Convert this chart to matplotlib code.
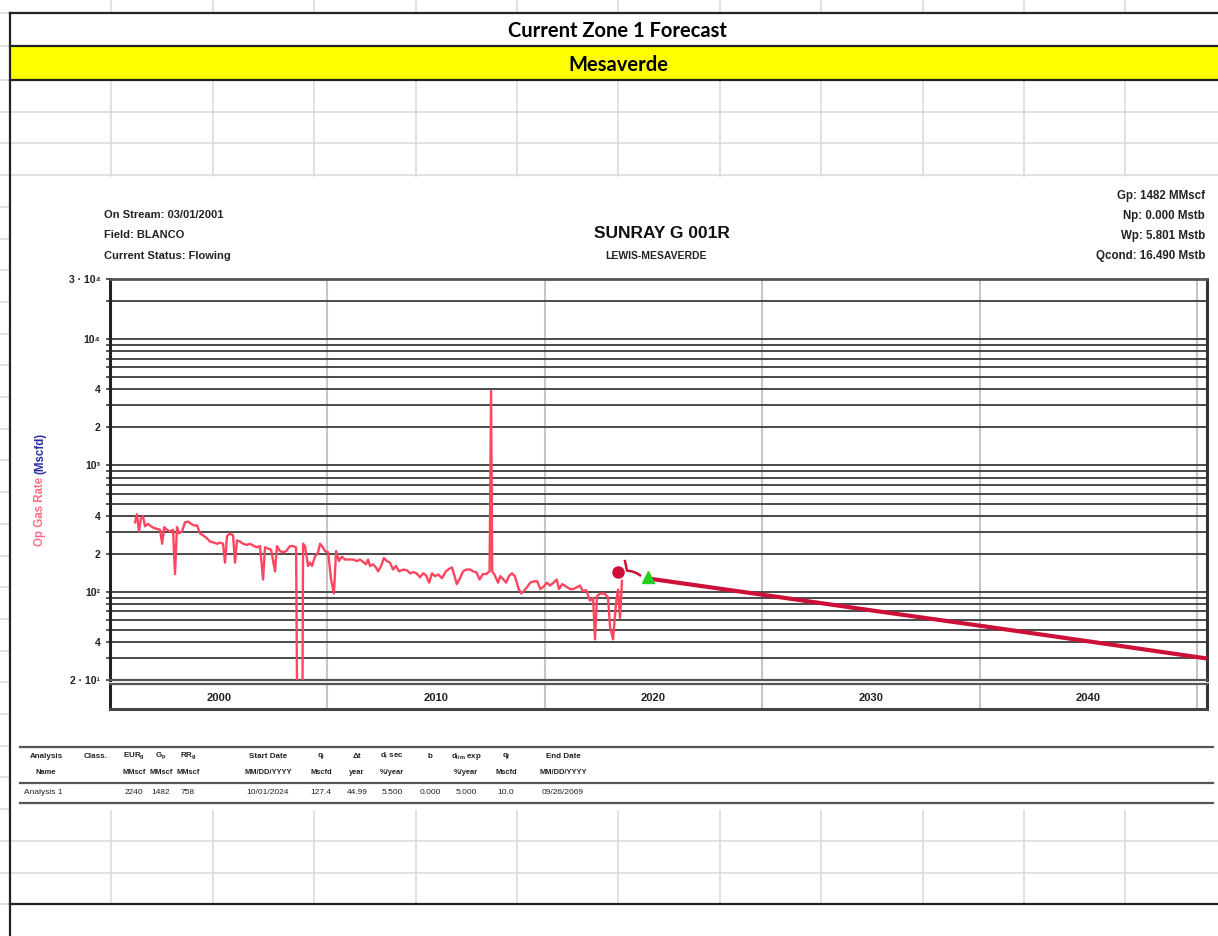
import matplotlib
matplotlib.use("Agg")
import matplotlib.pyplot as plt
from matplotlib.ticker import FixedLocator, NullFormatter

plt.rcParams['font.family'] = ['Liberation Sans', 'DejaVu Sans']
plt.rcParams['mathtext.fontset'] = 'custom'
plt.rcParams['mathtext.rm'] = 'Liberation Sans'
plt.rcParams['mathtext.bf'] = 'Liberation Sans:bold'
plt.rcParams['mathtext.it'] = 'Liberation Sans:italic'

W, H = 1218, 936

# ---- production history (Mscfd) ----
hist_year = [
    2001.15, 2001.24, 2001.33, 2001.42, 2001.52, 2001.61, 2001.75, 2001.89,
    2002.02, 2002.16, 2002.30, 2002.40, 2002.49, 2002.62, 2002.76, 2002.90, 2002.99, 2003.08,
    2003.17, 2003.31, 2003.45, 2003.59, 2003.73, 2003.87, 2004.00, 2004.14, 2004.28, 2004.46,
    2004.60, 2004.78, 2004.92, 2005.06, 2005.20, 2005.29, 2005.38, 2005.52, 2005.66, 2005.75,
    2005.84, 2005.98, 2006.12, 2006.30, 2006.44, 2006.62, 2006.76, 2006.90, 2007.04, 2007.13,
    2007.27, 2007.41, 2007.59, 2007.68, 2007.82, 2007.96, 2008.10, 2008.28, 2008.42, 2008.56,
    2008.65, 2008.83, 2008.88, 2008.97, 2009.11, 2009.20, 2009.29, 2009.43, 2009.57, 2009.66,
    2009.75, 2009.89, 2010.03, 2010.17, 2010.30, 2010.40, 2010.53, 2010.67, 2010.81, 2011.00,
    2011.18, 2011.36, 2011.50, 2011.68, 2011.78, 2011.87, 2011.96, 2012.10, 2012.24, 2012.33,
    2012.47, 2012.60, 2012.74, 2012.88, 2013.02, 2013.15, 2013.30, 2013.48, 2013.66, 2013.80,
    2013.95, 2014.10, 2014.26, 2014.40, 2014.54, 2014.68, 2014.81, 2014.95, 2015.10, 2015.27,
    2015.45, 2015.60, 2015.73, 2015.85, 2015.95, 2016.10, 2016.24, 2016.40, 2016.56, 2016.70,
    2016.85, 2017.00, 2017.15, 2017.30, 2017.46, 2017.53, 2017.58, 2017.70, 2017.85, 2017.95,
    2018.10, 2018.22, 2018.35, 2018.49, 2018.62, 2018.80, 2018.92, 2019.05, 2019.20, 2019.33,
    2019.50, 2019.65, 2019.80, 2019.95, 2020.10, 2020.24, 2020.40, 2020.55, 2020.65, 2020.80,
    2020.98, 2021.16, 2021.30, 2021.45, 2021.62, 2021.75, 2021.90, 2022.08, 2022.22, 2022.31,
    2022.40, 2022.52, 2022.63, 2022.77, 2022.91, 2023.00, 2023.14, 2023.28, 2023.37, 2023.46,
    2023.55,
]
hist_rate = [
    355, 410, 300, 380, 395, 330, 345, 330,
    320, 315, 310, 240, 325, 310, 300, 310, 138, 325,
    290, 300, 355, 360, 345, 335, 335, 290, 280, 265,
    250, 245, 240, 245, 240, 170, 275, 290, 280, 170,
    255, 250, 240, 235, 240, 230, 225, 230, 125, 225,
    220, 215, 145, 230, 210, 205, 210, 230, 230, 225,
    1, 1, 240, 230, 160, 170, 160, 190, 205, 240,
    230, 210, 205, 125, 97, 210, 175, 190, 180, 180,
    180, 175, 180, 170, 165, 180, 160, 165, 155, 145,
    160, 185, 175, 170, 150, 160, 145, 150, 148, 140,
    143, 140, 130, 140, 135, 118, 140, 133, 137, 128,
    145, 152, 156, 133, 115, 128, 145, 150, 150, 145,
    143, 125, 138, 138, 145, 3900, 145, 135, 118, 133,
    125, 118, 133, 140, 133, 105, 97, 102, 110, 118,
    121, 121, 105, 110, 118, 112, 118, 125, 105, 115,
    110, 105, 105, 108, 112, 101, 103, 85, 89, 42,
    92, 96, 97, 96, 90, 53, 42, 82, 104, 62,
    122,
]

recent_year = [2023.69, 2023.78, 2024.01, 2024.24, 2024.38]
recent_rate = [175, 147, 145, 140, 135]

# forecast (Analysis 1)
fcst_year = [2024.75, 2030.0, 2035.0, 2040.0, 2045.0, 2050.46]
fcst_rate = [127.4, 94.8, 71.3, 53.9, 40.5, 29.6]

last_prod_year, last_prod_rate = 2023.37, 143
fcst_start_year, fcst_start_rate = 2024.75, 132

decades = [2000, 2010, 2020, 2030, 2040, 2050]
decade_labels = ['2000', '2010', '2020', '2030', '2040']

ytick_vals = [20, 40, 100, 200, 400, 1000, 2000, 4000, 10000, 30000]
ytick_labels = ['2 · 10¹', '4', '10²', '2', '4', '10³', '2', '4', '10⁴', '3 · 10⁴']

info_left = ['On Stream: 03/01/2001', 'Field: BLANCO', 'Current Status: Flowing']
info_right = ['Gp: 1482 MMscf', 'Np: 0.000 Mstb', 'Wp: 5.801 Mstb', 'Qcond: 16.490 Mstb']

tbl_head1 = ['Analysis', 'Class.', r'EUR$_\mathbf{g}$', r'G$_\mathbf{p}$', r'RR$_\mathbf{g}$', 'Start Date',
             r'q$_\mathbf{i}$', 'Δt', r'd$_\mathbf{i}$ sec', 'b', r'd$_\mathbf{lim}$ exp', r'q$_\mathbf{f}$', 'End Date']
tbl_head2 = ['Name', '', 'MMscf', 'MMscf', 'MMscf', 'MM/DD/YYYY', 'Mscfd', 'year', '%/year', '', '%/year',
             'Mscfd', 'MM/DD/YYYY']
tbl_row = ['Analysis 1', '', '2240', '1482', '758', '10/01/2024', '127.4', '44.99', '5.500', '0.000', '5.000',
           '10.0', '09/26/2069']
tbl_col_x = [46, 96, 134, 161, 188, 268, 321, 357, 392, 430, 466, 506, 563]

HIST_C = '#ff4560'
FCST_C = '#cc1038'
HGRID_C = '#3c3c3c'
VGRID_C = '#c6c6c6'

fig = plt.figure(figsize=(W / 100, H / 100), dpi=100)

# ---- spreadsheet background (pixel coordinates) ----
bg = fig.add_axes([0, 0, 1, 1])
bg.set_xlim(0, W)
bg.set_ylim(H, 0)
bg.axis('off')

cell_c = '#dcdcdc'
col_x = [10 + 101.4 * k for k in range(1, 12)]
row_y = [80 + 31.7 * k for k in range(0, 27)]
for cx in col_x:
    bg.plot([cx, cx], [0, 13], color=cell_c, lw=1.2)
    bg.plot([cx, cx], [80, 176], color=cell_c, lw=1.2)
    bg.plot([cx, cx], [811, 904], color=cell_c, lw=1.2)
for ry in [13, 46] + row_y:
    bg.plot([0, 9], [ry, ry], color=cell_c, lw=1.2)
    if 80 < ry < 176 or 811 < ry < 904:
        bg.plot([10, W], [ry, ry], color=cell_c, lw=1.2)

bg.fill_between([10, W], 46, 80, color='#ffff00', lw=0)
for by in [13, 46, 80, 904]:
    bg.plot([10, W], [by, by], color='#222222', lw=1.6)
bg.plot([10, 10], [13, H], color='#222222', lw=1.6)

bg.text(617, 31, 'Current Zone 1 Forecast', ha='center', va='center', fontsize=14.5,
        fontweight='bold', family=['Lato', 'DejaVu Sans'])
bg.text(618, 65, 'Mesaverde', ha='center', va='center', fontsize=14.5,
        fontweight='bold', family=['Lato', 'DejaVu Sans'])

# chart header texts
for i, s in enumerate(info_left):
    bg.text(104, 215 + 20.5 * i, s, ha='left', va='center', fontsize=8, fontweight='bold', color='#222222')
for i, s in enumerate(info_right):
    bg.text(1205, 196 + 20 * i, s, ha='right', va='center', fontsize=8.3, fontweight='bold', color='#222222')
bg.text(662, 234, 'SUNRAY G 001R', ha='center', va='center', fontsize=12.5, fontweight='bold', color='#111111')
bg.text(656, 256, 'LEWIS-MESAVERDE', ha='center', va='center', fontsize=7.5, fontweight='bold', color='#222222')

# y label in two colours
t1 = bg.text(40, 546, 'Op Gas Rate ', rotation=90, ha='center', va='bottom', fontsize=8.3,
             fontweight='bold', color='#ff6f86')
bg.annotate('(Mscfd)', xy=(0.5, 1.0), xycoords=t1, rotation=90, ha='center', va='bottom',
            fontsize=8.3, fontweight='bold', color='#2a2aa8')

# results table under the chart
for ly in [747, 783, 803]:
    bg.plot([20, 1213], [ly, ly], color='#555555', lw=1.6)
for cx, h1, h2 in zip(tbl_col_x, tbl_head1, tbl_head2):
    bg.text(cx, 756, h1, ha='center', va='center', fontsize=5.8, fontweight='bold', color='#222222')
    bg.text(cx, 772, h2, ha='center', va='center', fontsize=5.4, fontweight='bold', color='#222222')
bg.text(24, 792, tbl_row[0], ha='left', va='center', fontsize=6, color='#222222')
for cx, v in zip(tbl_col_x[1:], tbl_row[1:]):
    bg.text(cx, 792, v, ha='center', va='center', fontsize=6, color='#222222')

# ---- main rate-time plot ----
ax = fig.add_axes([110 / W, 1 - 680 / H, 1097 / W, (680 - 279) / H])
ax.set_yscale('log')
ax.set_xlim(2000.0, 2050.46)
ax.set_ylim(20, 30000)

ax.plot(hist_year, hist_rate, color=HIST_C, lw=1.7, zorder=3)
ax.plot(recent_year, recent_rate, color=FCST_C, lw=1.8, zorder=3)
ax.plot(fcst_year, fcst_rate, color=FCST_C, lw=3, zorder=3, solid_capstyle='butt')
ax.plot([last_prod_year], [last_prod_rate], 'o', color=FCST_C, ms=8, zorder=4)
ax.plot([fcst_start_year], [fcst_start_rate], '^', color='#22d022', ms=9, zorder=4)

minor_vals = [m * 10 ** e for e in range(1, 5) for m in range(2, 10)
              if 20 <= m * 10 ** e <= 30000 and m * 10 ** e not in ytick_vals]
ax.yaxis.set_major_locator(FixedLocator(ytick_vals))
ax.yaxis.set_minor_locator(FixedLocator(minor_vals))
ax.yaxis.set_minor_formatter(NullFormatter())
ax.set_yticks(ytick_vals, labels=ytick_labels)
for lbl in ax.get_yticklabels():
    lbl.set_fontweight('bold')
    lbl.set_fontsize(7.5)
    lbl.set_color('#222222')
ax.tick_params(axis='y', which='both', direction='out', length=3, width=1.2, color=HGRID_C, pad=4)
ax.grid(True, which='both', axis='y', color=HGRID_C, lw=1.3)

ax.set_xticks(decades[1:])
ax.tick_params(axis='x', length=0, labelbottom=False)
ax.grid(True, which='major', axis='x', color=VGRID_C, lw=1.5)
ax.set_axisbelow(True)

for side, lw, c in [('left', 2.2, '#222222'), ('right', 2.2, '#333333'),
                    ('top', 2.0, '#555555'), ('bottom', 1.6, '#555555')]:
    ax.spines[side].set_linewidth(lw)
    ax.spines[side].set_color(c)

# ---- decade band under the plot ----
band = fig.add_axes([110 / W, 1 - 709 / H, 1097 / W, (709 - 684) / H], sharex=ax)
band.set_ylim(0, 1)
band.set_yticks([])
band.set_xticks(decades[1:])
band.tick_params(axis='x', length=0, labelbottom=False)
band.grid(True, axis='x', color=VGRID_C, lw=1.5)
for d, lab in zip(decades, decade_labels):
    band.text(d + 5, 0.45, lab, ha='center', va='center', fontsize=8, fontweight='bold', color='#222222')
for side, lw, c in [('left', 2.2, '#222222'), ('right', 2.2, '#333333'),
                    ('top', 1.6, '#555555'), ('bottom', 2.2, '#444444')]:
    band.spines[side].set_linewidth(lw)
    band.spines[side].set_color(c)

fig.savefig('out.png', dpi=100)
